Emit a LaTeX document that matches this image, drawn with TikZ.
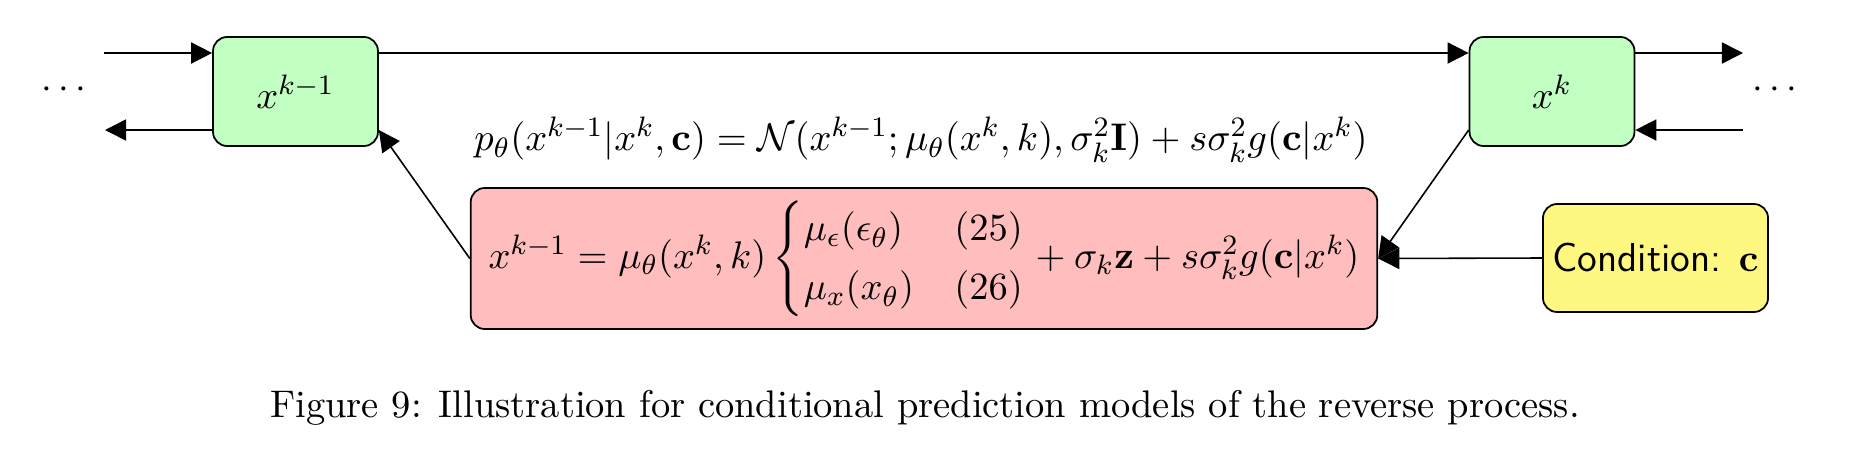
\documentclass[tikz,border=0pt]{standalone}
\usepackage{amsmath}
\usetikzlibrary{arrows.meta,calc}
\newcommand{\figsize}{\fontsize{11.45}{14}\selectfont}
\begin{document}
\begin{tikzpicture}[x=0.01cm,y=-0.01cm,
  arr/.style={-{Triangle[length=6pt,width=6pt]},line width=0.45pt},
  box/.style={draw,line width=0.5pt,rounded corners=4pt,inner sep=0pt},
  greenbox/.style={box,fill=green!24,minimum width=46.9pt,minimum height=31pt},
  pinkbox/.style={box,fill=red!26,minimum width=257.8pt,minimum height=40.1pt},
  condbox/.style={box,fill=yellow!50,minimum width=64pt,minimum height=30.7pt}]
\useasboundingbox (0,0) rectangle (1854,448);
\node[greenbox] (b1) at (295.5,91.5) {\figsize $x^{k-1}$};
\node[greenbox] (b2) at (1552,91.5) {\figsize $x^{k}$};
\node (d1) at (67,90) {\figsize $\cdots$};
\node (d2) at (1778,90) {\figsize $\cdots$};
\node (top) at (921,140) {\figsize $p_\theta(x^{k-1}|x^k,\mathbf{c}) = \mathcal{N}(x^{k-1};\mu_\theta(x^k,k),\sigma_k^2\mathbf{I}) + s\sigma_k^2 g(\mathbf{c}|x^k)$};
\node[pinkbox] (pink) at (924,258.5) {\figsize $x^{k-1} = \mu_\theta(x^k,k)\begin{cases}\mu_\epsilon(\epsilon_\theta) & (25)\\ \mu_x(x_\theta) & (26)\end{cases} + \sigma_k\mathbf{z} + s\sigma_k^2 g(\mathbf{c}|x^k)$};
\node[condbox] (cond) at (1655.5,258) {\figsize\sffamily Condition: $\mathbf{c}$};
\node (cap) at (925,408) {\fontsize{10.95}{13}\selectfont Figure 9: Illustration for conditional prediction models of the reverse process.};
\coordinate (l1) at (104,53);
\coordinate (l2) at (105,130);
\coordinate (r1) at (1743,53);
\coordinate (r2) at (1743,130);
\draw[arr] (l1) -- (l1 -| b1.west);
\draw[arr] (l2 -| b1.west) -- (l2);
\draw[arr] (l1 -| b1.east) -- (l1 -| b2.west);
\draw[arr] (r1 -| b2.east) -- (r1);
\draw[arr] (r2) -- (r2 -| b2.east);
\draw[arr] (l2 -| b2.west) -- (pink.east);
\draw[arr] (cond.west) -- (pink.east);
\draw[arr] (pink.west) -- (l2 -| b1.east);
\end{tikzpicture}
\end{document}
